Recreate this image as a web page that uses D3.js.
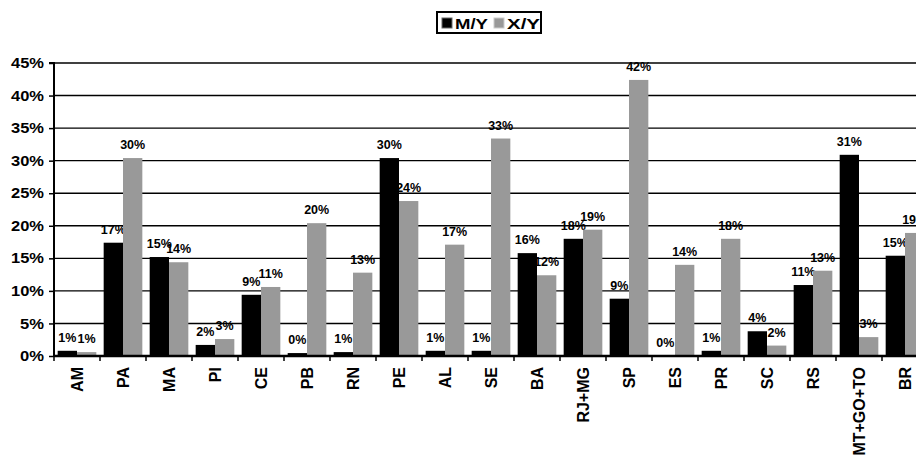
<!DOCTYPE html>
<html>
<head>
<meta charset="utf-8">
<script src="https://cdn.jsdelivr.net/npm/d3@7"></script>
<style>
  body { margin: 0; background: #fff; }
  svg { display: block; font-family: "Liberation Sans", Arial, sans-serif; font-weight: bold; }
</style>
</head>
<body>
<svg id="root"></svg>
<script>
// states (categories) and the two series, in percent
const states = ["AM", "PA", "MA", "PI", "CE", "PB", "RN", "PE", "AL", "SE", "BA", "RJ+MG", "SP", "ES", "PR", "SC", "RS", "MT+GO+TO", "BR"];
const seriesNames = ["M/Y", "X/Y"];
const mY = [0.8, 17.4, 15.2, 1.7, 9.4, 0.45, 0.6, 30.4, 0.8, 0.8, 15.8, 18.0, 8.8, 0.0, 0.8, 3.8, 10.9, 30.9, 15.4];
const xY = [0.6, 30.4, 14.4, 2.6, 10.6, 20.4, 12.8, 23.8, 17.1, 33.4, 12.4, 19.4, 42.4, 14.0, 18.0, 1.6, 13.1, 2.9, 18.9];
const yTicks = [0, 5, 10, 15, 20, 25, 30, 35, 40, 45];
const colors = ["#000000", "#999999"];

const W = 916, H = 459;
const margin = { top: 63, left: 54, bottom: 103 };
const step = 46;
const plotH = H - margin.top - margin.bottom;

const svg = d3.select("#root").attr("width", W).attr("height", H);

const x0 = d3.scaleBand().domain(states).range([margin.left, margin.left + step * states.length]);
const x1 = d3.scaleBand().domain(seriesNames).range([0, x0.bandwidth()]).paddingOuter(0.19);
const y = d3.scaleLinear([0, 45], [margin.top + plotH, margin.top]);

const data = states.map((s, i) => ({ state: s, values: [mY[i], xY[i]] }));

// value labels (drawn first, gridlines and bars sit over them like the original)
const labels = svg.append("g").attr("font-size", 12.5).attr("text-anchor", "middle");
data.forEach(d => {
  d.values.forEach((v, j) => {
    labels.append("text")
      .attr("x", x0(d.state) + x1(seriesNames[j]) + x1.bandwidth() / 2)
      .attr("y", y(v) - 9)
      .text(Math.round(v) + "%");
  });
});

// gridlines
svg.append("g")
  .selectAll("line")
  .data(yTicks.slice(1))
  .join("line")
  .attr("x1", margin.left)
  .attr("x2", W)
  .attr("y1", d => y(d))
  .attr("y2", d => y(d))
  .attr("stroke", "#000")
  .attr("stroke-width", 1.4);

// bars
const groups = svg.append("g")
  .selectAll("g")
  .data(data)
  .join("g")
  .attr("transform", d => `translate(${x0(d.state)},0)`);

groups.selectAll("rect")
  .data(d => d.values.map((v, j) => ({ key: seriesNames[j], v: v, j: j })))
  .join("rect")
  .attr("x", d => x1(d.key))
  .attr("width", x1.bandwidth())
  .attr("y", d => y(d.v))
  .attr("height", d => y(0) - y(d.v))
  .attr("fill", d => colors[d.j]);

// y axis
const yAxis = d3.axisLeft(y)
  .tickValues(yTicks)
  .tickFormat(d => d + "%")
  .tickSize(5)
  .tickPadding(5);
const gy = svg.append("g")
  .attr("transform", `translate(${margin.left},0)`)
  .call(yAxis);
gy.select(".domain").attr("stroke-width", 2).attr("d", `M-5,${y(45)}H0V${y(0)}`);
gy.selectAll(".tick line").attr("stroke-width", 1.5);
gy.selectAll(".tick text")
  .attr("font-size", 14.5)
  .attr("font-family", "Liberation Sans, Arial, sans-serif")
  .attr("font-weight", "bold")
  .attr("fill", "#000")
  .attr("textLength", d => (d < 10 ? 24 : 33))
  .attr("lengthAdjust", "spacingAndGlyphs");

// x axis
const xAxis = d3.axisBottom(x0).tickSize(0).tickPadding(0);
const gx = svg.append("g")
  .attr("transform", `translate(0,${y(0)})`)
  .call(xAxis);
gx.select(".domain").attr("stroke-width", 2.5).attr("d", `M${margin.left},0H${W}`);
gx.selectAll(".tick text")
  .attr("font-size", 16)
  .attr("font-family", "Liberation Sans, Arial, sans-serif")
  .attr("font-weight", "bold")
  .attr("fill", "#000")
  .attr("text-anchor", "end")
  .attr("dy", "0.35em")
  .attr("transform", "translate(0,11) rotate(-90)");

// category separator ticks
gx.append("g")
  .selectAll("line")
  .data(states.concat([null]))
  .join("line")
  .attr("x1", (d, i) => margin.left + i * x0.step())
  .attr("x2", (d, i) => margin.left + i * x0.step())
  .attr("y1", 0)
  .attr("y2", 5)
  .attr("stroke", "#000")
  .attr("stroke-width", 1.5);

// legend
const legend = svg.append("g").attr("transform", "translate(437,12)");
legend.append("rect")
  .attr("width", 104).attr("height", 21)
  .attr("fill", "#fff").attr("stroke", "#000").attr("stroke-width", 2);
const lx = [5, 57];
seriesNames.forEach((name, i) => {
  legend.append("rect")
    .attr("x", lx[i]).attr("y", 6)
    .attr("width", 10).attr("height", 10)
    .attr("fill", colors[i])
    .attr("stroke", i === 0 ? "#666" : "#ccc")
    .attr("stroke-width", 1);
  legend.append("text")
    .attr("x", lx[i] + 13).attr("y", 17)
    .attr("font-size", 15)
    .attr("textLength", 33)
    .attr("lengthAdjust", "spacingAndGlyphs")
    .text(name);
});
</script>
</body>
</html>
